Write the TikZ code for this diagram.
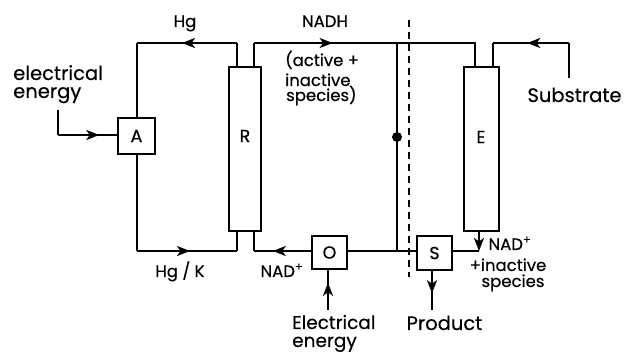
\documentclass[tikz,border=0pt]{standalone}
\usepackage{fontspec}
\setmainfont{Poppins}[FakeBold=0.4]
\usetikzlibrary{arrows.meta,decorations.markings}
\tikzset{
  ln/.style={line width=2.1pt},
  box/.style={draw,line width=2.1pt,rectangle,inner sep=0pt,font=\fontsize{17.5}{17.5}\selectfont},
  tube/.style={draw,line width=2.1pt,rectangle,inner sep=0pt,minimum width=32pt,minimum height=164pt},
  big/.style={inner sep=0pt,font=\fontsize{19.5}{19.5}\selectfont},
  small/.style={inner sep=0pt,font=\fontsize{16.5}{16.5}\selectfont},
  boxlbl/.style={inner sep=0pt,font=\fontsize{17.5}{17.5}\selectfont},
  arrat/.style={postaction={decorate},decoration={markings,mark=at position #1 with {\arrow{Stealth[length=13pt,width=10pt,inset=3.5pt]}}}},
  tipend/.style={-{Stealth[length=13pt,width=10pt,inset=3.5pt]}},
}
\begin{document}
\begin{tikzpicture}[x=1pt,y=-1pt]
\useasboundingbox (0,0) rectangle (625,355);
% boxes
\node[box,minimum width=37pt,minimum height=36pt] (A) at (136.5,136) {A};
\node[tube] (R) at (245,149) {};
\node[boxlbl] (Rl) at (245,136) {R};
\node[tube,minimum width=35pt] (E) at (481.5,149) {};
\node[boxlbl] (El) at (481,137) {E};
\node[box,minimum width=35pt,minimum height=33pt] (O) at (329.5,252.5) {O};
\node[box,minimum width=35pt,minimum height=34pt] (S) at (434.5,253) {S};
% coordinates
\coordinate (Rtl) at (237,67);
\coordinate (Rtr) at (254,67);
\coordinate (Rbl) at (237,231);
\coordinate (Rbr) at (254,231);
\coordinate (Hg1) at (237,43);
\coordinate (Hg2) at (137,43);
\coordinate (Hk1) at (137,251);
\coordinate (Hk2) at (237,251);
\coordinate (ee0) at (58,110);
\coordinate (ee1) at (58,135);
\coordinate (N1) at (254,43);
\coordinate (J) at (397,43);
\coordinate (N2) at (475,43);
\coordinate (Etl) at (475,67);
\coordinate (Etr) at (493,67);
\coordinate (Ebx) at (479,231);
\coordinate (Jb) at (397,251);
\coordinate (Nb) at (254,251);
\coordinate (Sb) at (479,251);
\coordinate (Su0) at (569,78);
\coordinate (Su1) at (569,43);
\coordinate (Su2) at (493,43);
\coordinate (Oin) at (328,310);
\coordinate (Sout) at (432,310);
\coordinate (dot) at (397,137);
\coordinate (d1) at (409,20);
\coordinate (d2) at (409,277);
% Hg loop
\draw[ln] (Rtl) -- (Hg1);
\draw[ln,arrat=0.55] (Hg1) -- (Hg2);
\draw[ln] (Hg2) -- (A.north -| Hg2);
\draw[ln] (A.south -| Hk1) -- (Hk1);
\draw[ln,arrat=0.53] (Hk1) -- (Hk2);
\draw[ln] (Hk2) -- (Rbl);
% electrical energy to A
\draw[ln] (ee0) -- (ee1);
\draw[ln,arrat=0.7] (ee1) -- (A.west |- ee1);
% NADH line
\draw[ln] (Rtr) -- (N1);
\draw[ln,arrat=0.55] (N1) -- (J);
\draw[ln] (J) -- (N2) -- (Etl);
\draw[ln] (J) -- (Jb);
\fill (dot) circle (5pt);
% NAD+ return
\draw[ln,arrat=0.67] (O.west |- Nb) -- (Nb);
\draw[ln] (Nb) -- (Rbr);
\draw[ln] (O.east |- Nb) -- (S.west |- Nb);
\draw[ln] (S.east |- Sb) -- (Sb);
\draw[ln,tipend] (Ebx) -- (Sb);
% substrate
\draw[ln] (Su0) -- (Su1);
\draw[ln,arrat=0.55] (Su1) -- (Su2);
\draw[ln] (Su2) -- (Etr);
% O input, S output
\draw[ln,arrat=0.68] (Oin) -- (O.south -| Oin);
\draw[ln,arrat=0.57] (S.south -| Sout) -- (Sout);
% dashed separator
\draw[line width=1.9pt,dash pattern=on 7pt off 5pt] (d1) -- (d2);
% labels
\node[small,anchor=base] (tHg) at (185,27) {Hg};
\node[small,anchor=base] (tNADH) at (325,27) {NADH};
\node[big,anchor=base west] (tee1) at (13,80) {electrical};
\node[big,anchor=base west] (tee2) at (13,98) {energy};
\node[small,anchor=base west] (tact1) at (285,66) {(active +};
\node[small,anchor=base west] (tact2) at (285,86) {inactive};
\node[small,anchor=base west] (tact3) at (286,101) {species)};
\node[big,anchor=base] (tsub) at (574.5,102) {Substrate};
\node[small,anchor=base] (tHgK) at (180,277) {Hg / K};
\node[small,anchor=base] (tNADl) at (282,277) {NAD\textsuperscript{+}};
\node[small,anchor=base] (tNADr) at (510,250) {NAD\textsuperscript{+}};
\node[small,anchor=base] (tin1) at (508,271) {+inactive};
\node[small,anchor=base] (tin2) at (513,287) {species};
\node[big,font=\fontsize{18.5}{18.5}\selectfont,anchor=base west] (tEE1) at (292,329) {Electrical};
\node[big,font=\fontsize{18.5}{18.5}\selectfont,anchor=base west] (tEE2) at (292,347) {energy};
\node[big,anchor=base] (tprod) at (444.5,330) {Product};
\end{tikzpicture}
\end{document}
